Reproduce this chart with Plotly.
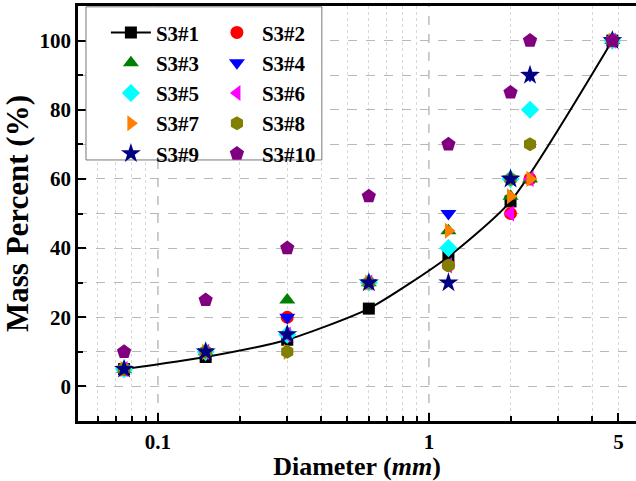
import plotly.graph_objects as go

diameter = [0.075, 0.15, 0.3, 0.6, 1.18, 2.0, 2.36, 4.75]
s1 = [5, 8.5, 13.5, 22.5, 37.5, 53.5, None, 100]
s2 = [5, 10, 20, 30, 35, 50, 60, 100]
s3 = [5, 10, 25, 30, 45, 55, 60, 100]
s4 = [5, 10, 20, 30, 50, 60, 90, 100]
s5 = [5, 10, 15, 30, 40, 60, 80, 100]
s6 = [5, 10, 15, 30, 35, 50, 60, 100]
s7 = [5, 10, 10, 30, 45, 55, 60, 100]
s8 = [5, 10, 10, 30, 35, 60, 70, 100]
s9 = [5, 10, 15, 30, 30, 60, 90, 100]
s10 = [10, 25, 40, 55, 70, 85, 100, 100]

names = ["S3#1", "S3#2", "S3#3", "S3#4", "S3#5", "S3#6", "S3#7", "S3#8", "S3#9", "S3#10"]
series = [s1, s2, s3, s4, s5, s6, s7, s8, s9, s10]
colors = ["#000000", "#ff0000", "#008000", "#0000ff", "#00ffff", "#ff00ff",
          "#ff8000", "#808000", "#000080", "#800080"]
symbols = ["square", "circle", "triangle-up", "triangle-down", "diamond",
           "triangle-left", "triangle-right", "hexagon", "star", "pentagon"]
sizes = [12, 13, 14, 14, 14, 14, 14, 14, 15, 15]

x_ticks = [0.1, 1, 5]
x_labels = ["0.1", "1", "5"]
x_major_grid = [0.1, 1]
x_minor = [0.06, 0.07, 0.08, 0.09, 0.2, 0.3, 0.4, 0.5, 0.6, 0.7, 0.8, 0.9, 2, 3, 4, 5]
y_ticks = [0, 20, 40, 60, 80, 100]
y_minor = [-10, 10, 30, 50, 70, 90]

FONT = "Liberation Serif, Times New Roman, Times, serif"
fig = go.Figure()
for i, (nm, ys) in enumerate(zip(names, series)):
    fig.add_trace(go.Scatter(
        x=diameter, y=ys, name=nm, connectgaps=True,
        mode="lines+markers" if i == 0 else "markers",
        line=dict(color="black", width=2, shape="spline", smoothing=0.6),
        marker=dict(symbol=symbols[i], color=colors[i], size=sizes[i],
                    line=dict(width=0)),
        legend="legend" if i % 2 == 0 else "legend2",
    ))

grid_c = "#b8b8b8"
shapes = [dict(type="line", xref="x", yref="paper", x0=v, x1=v, y0=0, y1=1,
               line=dict(color="#9a9a9a", width=1, dash="dash"), layer="below")
          for v in x_major_grid]
shapes.append(dict(type="rect", xref="paper", yref="paper",
                   x0=0.0143, x1=0.437, y0=0.629, y1=0.998,
                   line=dict(color="#777777", width=1), fillcolor="white", layer="above"))

fig.update_layout(
    width=636, height=481,
    margin=dict(l=78, r=0, t=6, b=60),
    paper_bgcolor="white", plot_bgcolor="white",
    font=dict(family=FONT, color="black"),
    showlegend=True,
    legend=dict(x=0.05, y=0.985, xanchor="left", yanchor="top",
                bgcolor="rgba(0,0,0,0)", font=dict(size=21, family=FONT, weight="bold"),
                itemwidth=40, tracegroupgap=0),
    legend2=dict(x=0.24, y=0.985, xanchor="left", yanchor="top",
                 bgcolor="rgba(0,0,0,0)", font=dict(size=21, family=FONT, weight="bold"),
                 itemwidth=40, tracegroupgap=0),
    shapes=shapes,
    xaxis=dict(
        type="log", range=[-1.295, 0.764],
        tickmode="array", tickvals=x_ticks, ticktext=x_labels,
        ticks="inside", ticklen=8, tickwidth=2, tickcolor="black",
        showline=True, linecolor="black", linewidth=2.5, mirror=True,
        showgrid=False, zeroline=False,
        tickfont=dict(size=21, family=FONT, weight="bold"),
        title=dict(text="<b>Diameter (<i>mm</i>)</b>", font=dict(size=26, family=FONT), standoff=4),
        minor=dict(tickmode="array", tickvals=x_minor,
                   ticks="inside", ticklen=5, tickwidth=2, tickcolor="black",
                   showgrid=True, gridcolor="#d8d8d8", griddash="dot", gridwidth=1),
    ),
    yaxis=dict(
        range=[-10, 110], tickmode="array", tickvals=y_ticks,
        ticks="inside", ticklen=8, tickwidth=2, tickcolor="black",
        showline=True, linecolor="black", linewidth=2.5, mirror=False,
        showgrid=True, gridcolor=grid_c, griddash="dash", gridwidth=1,
        zeroline=False,
        tickfont=dict(size=21, family=FONT, weight="bold"),
        title=dict(text="<b>Mass Percent (%)</b>", font=dict(size=31, family=FONT), standoff=5),
        minor=dict(tickmode="array", tickvals=y_minor,
                   ticks="inside", ticklen=5, tickwidth=2, tickcolor="black",
                   showgrid=True, gridcolor=grid_c, griddash="dash", gridwidth=1),
    ),
)
fig.write_html("out.html")
